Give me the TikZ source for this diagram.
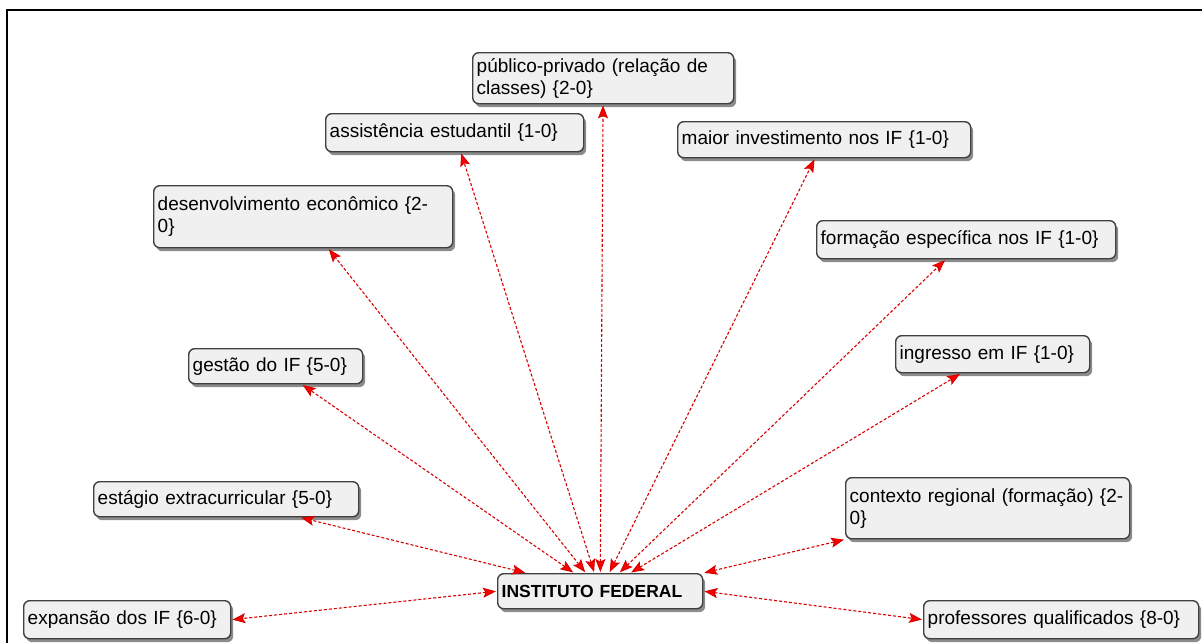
\documentclass[tikz,border=0pt]{standalone}
\usepackage{fontspec}
\setmainfont{Liberation Sans}
\usetikzlibrary{arrows.meta,shadows}
\tikzset{
    topic/.style={
        draw=black!75, line width=1.4pt, rounded corners=6pt,
        fill=black!6, anchor=north west, align=left,
        inner xsep=4pt, inner ysep=3pt,
        font=\fontsize{19}{22}\selectfont,
        drop shadow={shadow xshift=2.5pt, shadow yshift=-3.5pt, fill=black, opacity=0.45}
    },
    link/.style={
        draw=red!85!black, line width=1.1pt, dash pattern=on 3pt off 2pt,
        arrows={Stealth[length=13pt,width=10pt,inset=2.5pt,fill=red]-Stealth[length=13pt,width=10pt,inset=2.5pt,fill=red]},
        shorten <=1pt, shorten >=1pt
    },
}
\begin{document}
\begin{tikzpicture}[x=1pt,y=-1pt]
\useasboundingbox (0,0) rectangle (1202,643);
\draw[line width=2pt] (7,643) -- (7,10) -- (1202,10);

\node[topic, text width=253pt, minimum height=51pt] (pub) at (472,52) {público-privado (relação de\\classes) \{2-0\}};
\node[topic, text width=250pt, minimum height=38pt] (asst) at (325,113) {assistência estudantil \{1-0\}};
\node[topic, text width=285pt, minimum height=36pt] (maior) at (677,121) {maior investimento nos IF \{1-0\}};
\node[topic, text width=291pt, minimum height=62pt] (desenv) at (153,185) {desenvolvimento econômico \{2-\\0\}};
\node[topic, text width=291pt, minimum height=38pt] (form) at (816,220) {formação específica nos IF \{1-0\}};
\node[topic, text width=166pt, minimum height=35pt] (gestao) at (188,348) {gestão do IF \{5-0\}};
\node[topic, text width=186pt, minimum height=37pt] (ingr) at (895,335) {ingresso em IF \{1-0\}};
\node[topic, text width=257pt, minimum height=35pt] (estag) at (93,481) {estágio extracurricular \{5-0\}};
\node[topic, text width=276pt, minimum height=61pt] (ctx) at (845,477) {contexto regional (formação) \{2-\\0\}};
\node[topic, text width=197pt, minimum height=35pt, font=\fontsize{17.5}{20}\selectfont\bfseries] (inf) at (497,573) {INSTITUTO FEDERAL};
\node[topic, text width=199pt, minimum height=38pt] (exp) at (23,600) {expansão dos IF \{6-0\}};
\node[topic, text width=267pt, minimum height=38pt] (prof) at (923,600) {professores qualificados \{8-0\}};

\draw[link] (inf) -- (pub);
\draw[link] (inf) -- (asst);
\draw[link] (inf) -- (maior);
\draw[link] (inf) -- (desenv);
\draw[link] (inf) -- (form);
\draw[link] (inf) -- (gestao);
\draw[link] (inf) -- (ingr);
\draw[link] (inf) -- (estag);
\draw[link] (inf.north east) -- (ctx.south west);
\draw[link] (inf.west) -- (exp.east);
\draw[link] (inf.east) -- (prof.west);
\end{tikzpicture}
\end{document}
